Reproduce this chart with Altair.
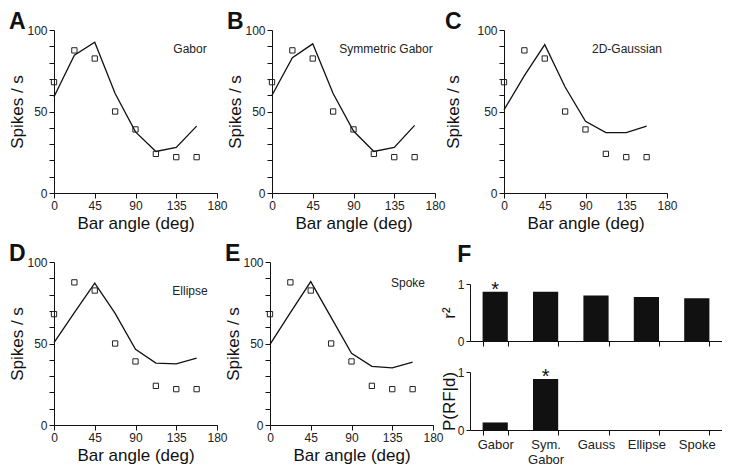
import altair as alt
import pandas as pd

FONT = "Liberation Sans"

angles = [0, 22.5, 45, 67.5, 90, 112.5, 135, 157.5]
observed = [68, 87.5, 82.5, 50, 39, 24, 22, 22]
fit_gabor = [59, 84.5, 92.5, 61, 37.5, 25.5, 28, 41]
fit_sym_gabor = [60, 83, 91.5, 61, 38, 25.5, 28, 41.5]
fit_gauss = [51, 72, 91, 65, 44, 37, 37, 41]
fit_ellipse = [50.5, 69, 87, 68.5, 46.5, 38, 37.5, 41]
fit_spoke = [49.5, 69, 88, 66, 44, 36, 35, 38.5]

models = ["Gabor", "Sym. Gabor", "Gauss", "Ellipse", "Spoke"]
r2_values = [0.865, 0.865, 0.80, 0.77, 0.75]
p_values = [0.13, 0.88, 0.0, 0.0, 0.0]
r2_star = ["*", "", "", "", ""]
p_star = ["", "*", "", "", ""]

W, H = 163, 163
LETTER = dict(anchor="start", frame="bounds", fontSize=23, fontWeight="bold",
              font=FONT, color="#111")


def line_panel(fit, name, letter, lx, ly, ytp=0):
    df = pd.DataFrame({"angle": angles, "obs": observed, "fit": fit})
    x = alt.X("angle:Q", scale=alt.Scale(domain=[0, 180], nice=False),
              axis=alt.Axis(values=[0, 45, 90, 135, 180], title="Bar angle (deg)",
                            labelFlush=False, titlePadding=4))
    yscale = alt.Scale(domain=[0, 100], nice=False)
    yaxis = alt.Axis(values=list(range(0, 101, 10)),
                     labelExpr="datum.value % 50 == 0 ? datum.label : ''",
                     title="Spikes / s", titlePadding=ytp, labelFlush=False)
    line = alt.Chart(df).mark_line(color="#111", strokeWidth=1.3).encode(
        x=x, y=alt.Y("fit:Q", scale=yscale, axis=yaxis))
    pts = alt.Chart(df).mark_point(shape="square", filled=False, size=28,
                                   color="#222", strokeWidth=1, opacity=1).encode(
        x=x, y=alt.Y("obs:Q", scale=yscale, axis=yaxis))
    lbl = alt.Chart(pd.DataFrame({"t": [name]})).mark_text(
        fontSize=12, font=FONT, color="#222", align="center", baseline="middle").encode(
        x=alt.value(lx), y=alt.value(ly), text="t:N")
    return alt.layer(line, pts, lbl).properties(
        width=W, height=H, title=alt.Title(letter, offset=-10, **LETTER))


A = line_panel(fit_gabor, "Gabor", "A", 136, 19)
B = line_panel(fit_sym_gabor, "Symmetric Gabor", "B", 114, 19)
C = line_panel(fit_gauss, "2D-Gaussian", "C", 123, 19, ytp=14)
D = line_panel(fit_ellipse, "Ellipse", "D", 136, 29)
E = line_panel(fit_spoke, "Spoke", "E", 138, 21)

bar_df = pd.DataFrame({"model": models, "r2": r2_values, "p": p_values,
                       "s1": r2_star, "s2": p_star})
bx_scale = alt.Scale(domain=models, paddingInner=0.5, paddingOuter=0.25)
FW = 252
TOP_GAP = 22


def bar_panel(field, star, title, show_labels, h, top=0, letter=None):
    xaxis = alt.Axis(title=None, tickBand="extent", labels=show_labels,
                     labelAngle=0, labelFontSize=13, labelPadding=3,
                     labelExpr="datum.label == 'Sym. Gabor' ? ['Sym.', 'Gabor'] : datum.label")
    x = alt.X("model:N", scale=bx_scale, sort=models, axis=xaxis)
    y = alt.Y(f"{field}:Q", scale=alt.Scale(domain=[0, 1], nice=False, range=[h + top, top]),
              axis=alt.Axis(values=[0, 1], format="d", title=title, titlePadding=-1,
                            tickSize=4, labelPadding=2))
    bars = alt.Chart(bar_df).mark_bar(color="#111").encode(x=x, y=y)
    stars = alt.Chart(bar_df).mark_text(fontSize=20, font=FONT, baseline="alphabetic",
                                        dy=4, color="#111").encode(
        x=x, y=y, text=f"{star}:N")
    props = dict(width=FW, height=h + top)
    if letter:
        props["title"] = alt.Title(letter, offset=-5, dx=17, **LETTER)
    return alt.layer(bars, stars).properties(**props)


F_top = bar_panel("r2", "s1", "r²", False, 57, top=TOP_GAP, letter="F")
F_bot = bar_panel("p", "s2", "P(RF|d)", True, 58)
F = alt.vconcat(F_top, F_bot, spacing=19)

row1 = alt.hconcat(A, B, C, spacing=-2)
row2 = alt.hconcat(D, E, F, spacing=-4)

chart = alt.vconcat(row1, row2, spacing=12).properties(
    padding={"left": 0, "top": 3, "right": 0, "bottom": 0}
).configure_view(
    stroke=None
).configure_axis(
    grid=False, domainColor="#111", tickColor="#111", labelColor="#222",
    labelFont=FONT, titleFont=FONT, labelFontSize=12, titleFontSize=17,
    titleFontWeight="normal", titleColor="#111", tickSize=5, labelPadding=2,
    domainWidth=1, tickWidth=1
).configure_title(font=FONT)

chart.save("out.html", embed_options={"renderer": "svg", "actions": False})
